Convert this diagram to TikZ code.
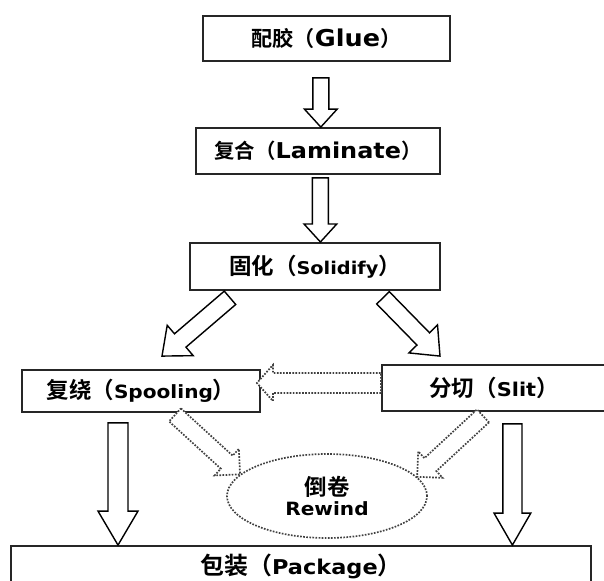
\documentclass[tikz,border=0pt]{standalone}
\usepackage{fontspec}
\setmainfont{DejaVu Sans}[FakeStretch=1.1]
\newfontfamily\cjk{Noto Sans CJK SC}[BoldFont={Noto Sans CJK SC Bold}]
\usepackage{tikz}
\usetikzlibrary{shapes.geometric, calc}

% label: {cjk size}{cjk text}{latin size}{latin text}
\newcommand{\proclabel}[4]{{\fontsize{#1}{#1}\cjk #2（}{\fontsize{#3}{#3}\selectfont #4}{\fontsize{#1}{#1}\cjk ）}}

% hollow block arrow: [style]{shaft half width}{head half width}{head length}{from}{to}
\newcommand{\blockarrow}[6][]{%
  \coordinate (arr-from) at (#5);
  \coordinate (arr-to) at (#6);
  \coordinate (arr-neck) at ($(arr-to)!#4!(arr-from)$);
  \draw[#1] ($(arr-from)!#2!90:(arr-to)$) -- ($(arr-neck)!#2!90:(arr-to)$)
    -- ($(arr-neck)!#3!90:(arr-to)$) -- (arr-to)
    -- ($(arr-neck)!#3!-90:(arr-to)$) -- ($(arr-neck)!#2!-90:(arr-to)$)
    -- ($(arr-from)!#2!-90:(arr-to)$) -- cycle;
}

\begin{document}
\begin{tikzpicture}[
    box/.style={draw=black!85, line width=1.3pt, fill=white, minimum height=1.15cm, inner sep=2pt, font=\bfseries},
    solidarrow/.style={draw=black, line width=1pt, fill=white, line join=miter},
    dotarrow/.style={draw=black!75, line width=1.2pt, densely dotted, fill=white},
    rewind/.style={draw=black!75, line width=1.2pt, densely dotted, ellipse, minimum width=5cm, minimum height=2.1cm, align=center, font=\bfseries}
]
    \useasboundingbox (0,0) rectangle (15.1,-14.525);
    \clip (0,0) rectangle (15.1,-14.525);

    % Process steps
    \node[box, minimum width=6.175cm, minimum height=1.125cm] (glue) at (8.16,-0.96) {\proclabel{15}{配胶}{16.5}{Glue}};
    \node[box, minimum width=6.1cm] (lam) at (7.95,-3.775) {\proclabel{14.5}{复合}{15.5}{Laminate}};
    \node[box, minimum width=6.25cm, minimum height=1.175cm] (solid) at (7.875,-6.66) {\proclabel{16}{固化}{12.5}{Solidify}};
    \node[box, minimum width=5.95cm, minimum height=1.05cm] (spool) at (3.525,-9.775) {\proclabel{16}{复绕}{13}{Spooling}};
    \node[box, minimum width=5.6cm] (slit) at (12.35,-9.7) {\proclabel{16}{分切}{13.5}{Slit}};
    \node[rewind] (rew) at (8.175,-12.4) {{\fontsize{16}{18}\cjk 倒卷}\\[2pt]{\fontsize{13}{15}\selectfont Rewind}};
    \node[box, minimum width=14.5cm, minimum height=1cm] (pack) at (7.525,-14.15) {\proclabel{17}{包装}{14.5}{Package}};

    % Main flow
    \blockarrow[solidarrow]{0.2cm}{0.41cm}{0.45cm}{[xshift=-0.14cm,yshift=-0.4cm]glue.south}{[xshift=-0.14cm]glue.south |- lam.north}
    \blockarrow[solidarrow]{0.2cm}{0.41cm}{0.45cm}{[xshift=0.06cm,yshift=-0.075cm]lam.south}{[xshift=0.06cm]lam.south |- solid.north}
    \blockarrow[solidarrow]{0.22cm}{0.5cm}{0.6cm}{[xshift=-2.125cm,yshift=-0.175cm]solid.south}{[xshift=0.525cm,yshift=0.325cm]spool.north}
    \blockarrow[solidarrow]{0.22cm}{0.5cm}{0.6cm}{[xshift=1.7cm,yshift=-0.175cm]solid.south}{[xshift=-1.35cm,yshift=0.2cm]slit.north}
    \blockarrow[solidarrow]{0.25cm}{0.5cm}{0.85cm}{[xshift=-0.575cm,yshift=-0.25cm]spool.south}{[xshift=-0.575cm]spool.south |- pack.north}
    \blockarrow[solidarrow]{0.24cm}{0.46cm}{0.8cm}{[xshift=0.46cm,yshift=-0.3cm]slit.south}{[xshift=0.46cm]slit.south |- pack.north}

    % Rewind loop (dotted)
    \blockarrow[dotarrow]{0.25cm}{0.45cm}{0.4cm}{[yshift=0.125cm]slit.west}{[xshift=-0.1cm,yshift=0.2cm]spool.east}
    \blockarrow[dotarrow]{0.22cm}{0.45cm}{0.45cm}{[xshift=0.85cm,yshift=-0.05cm]spool.south}{rew.166}
    \blockarrow[dotarrow]{0.22cm}{0.45cm}{0.45cm}{[xshift=-0.275cm,yshift=-0.1cm]slit.south}{rew.12}
\end{tikzpicture}
\end{document}
